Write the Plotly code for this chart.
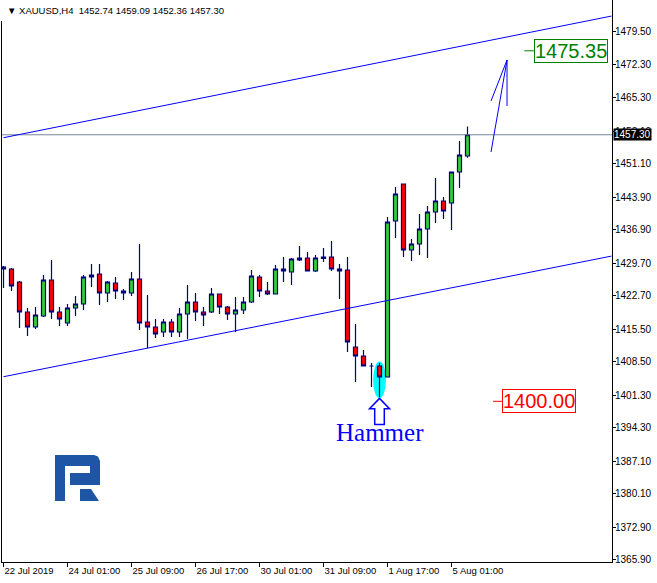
import plotly.graph_objects as go

# H4 bars, numbered from the first visible bar
tick_idx = [0, 8, 16, 24, 32, 40, 48, 56]
tick_text = ["22 Jul 2019", "24 Jul 01:00", "25 Jul 09:00", "26 Jul 17:00",
             "30 Jul 01:00", "31 Jul 09:00", "1 Aug 17:00", "5 Aug 01:00"]

opens = [1428.87, 1428.44, 1425.65, 1419.20, 1415.98, 1418.34, 1426.08, 1419.20,
         1416.84, 1420.06, 1420.92, 1426.72, 1427.37, 1423.29, 1425.43, 1423.72,
         1423.29, 1426.29, 1417.05, 1415.98, 1414.90, 1417.05, 1414.90, 1418.77,
         1421.35, 1419.20, 1419.20, 1423.07, 1420.28, 1418.77, 1419.63, 1421.35,
         1426.72, 1423.72, 1423.07, 1428.44, 1427.80, 1430.38, 1430.81, 1428.01,
         1431.02, 1431.02, 1428.44, 1428.23, 1411.68, 1409.74, 1407.59, 1407.59,
         1405.23, 1438.76, 1446.72, 1432.53, 1433.82, 1437.04, 1440.70, 1443.06,
         1442.63, 1449.30, 1452.74]
highs = [1429.09, 1428.66, 1425.87, 1420.06, 1420.28, 1427.15, 1430.38, 1420.28,
         1420.92, 1422.64, 1427.15, 1429.52, 1429.52, 1425.87, 1426.72, 1424.15,
         1427.80, 1433.82, 1422.86, 1417.70, 1417.70, 1417.70, 1420.06, 1425.00,
         1423.29, 1420.28, 1424.36, 1423.07, 1420.49, 1422.43, 1422.43, 1428.23,
         1427.15, 1425.65, 1429.31, 1431.02, 1430.81, 1433.39, 1432.10, 1431.45,
         1432.96, 1434.46, 1429.52, 1431.02, 1416.62, 1411.03, 1408.24, 1408.24,
         1439.62, 1446.07, 1446.72, 1434.89, 1440.27, 1441.99, 1448.01, 1443.92,
         1449.30, 1455.96, 1459.09]
lows = [1424.36, 1423.72, 1415.76, 1414.04, 1415.55, 1418.13, 1417.70, 1416.19,
        1416.19, 1418.34, 1419.63, 1424.58, 1420.71, 1421.35, 1422.00, 1421.78,
        1422.64, 1415.33, 1411.46, 1413.61, 1413.83, 1413.83, 1413.83, 1413.40,
        1417.27, 1416.19, 1418.99, 1418.77, 1417.48, 1414.90, 1418.77, 1421.14,
        1422.43, 1422.86, 1423.07, 1425.65, 1425.00, 1430.16, 1428.01, 1427.80,
        1429.95, 1428.01, 1422.00, 1410.60, 1404.15, 1407.59, 1403.08, 1400.93,
        1405.23, 1435.11, 1431.02, 1430.16, 1431.45, 1430.81, 1438.33, 1439.19,
        1436.83, 1445.86, 1452.36]
closes = [1428.44, 1424.79, 1419.20, 1415.98, 1418.56, 1426.08, 1419.20, 1417.70,
          1420.06, 1420.92, 1426.72, 1427.15, 1423.29, 1425.65, 1423.72, 1423.29,
          1426.29, 1416.84, 1415.98, 1414.47, 1417.05, 1414.90, 1418.77, 1421.35,
          1419.20, 1418.56, 1423.07, 1420.28, 1418.77, 1419.63, 1421.35, 1426.94,
          1423.72, 1423.07, 1428.44, 1428.01, 1430.59, 1430.81, 1428.01, 1430.81,
          1430.70, 1428.44, 1428.01, 1412.75, 1409.74, 1407.59, 1407.59, 1405.23,
          1438.55, 1444.57, 1432.53, 1433.82, 1437.04, 1440.70, 1443.06, 1440.91,
          1449.30, 1452.95, 1457.30]

y_ticks = [1365.90, 1372.90, 1380.10, 1387.10, 1394.30, 1401.30, 1408.50, 1415.50,
           1422.70, 1429.70, 1436.90, 1443.90, 1451.10, 1458.10, 1465.30, 1472.30,
           1479.50]

# channel lines (bar index, price)
channel_x = [0, 76]
upper_channel = [1456.67, 1482.82]
lower_channel = [1405.29, 1431.22]

# forecast arrow
arrow_x = [60.94, 62.94, None, 60.94, 62.94, 62.94]
arrow_y = [1453.60, 1473.37, None, 1464.56, 1473.37, 1463.48]

target_price = 1475.35
stop_price = 1400.00
hammer_idx = 47

last_close = closes[-1]
n = len(closes)
x = list(range(n))

FONT = "Liberation Sans, Arial, sans-serif"


def px_to_paper(px, py):
    return (px - 2) / 610, 1 - py / 562


def path_from_px(points):
    parts = []
    for i, (px, py) in enumerate(points):
        ax, ay = px_to_paper(px, py)
        parts.append(("M" if i == 0 else "L") + " %.5f,%.5f" % (ax, ay))
    return " ".join(parts) + " Z"


fig = go.Figure()

fig.add_trace(go.Scatter(
    x=[-1, 80], y=[last_close, last_close], mode="lines",
    line=dict(color="#778899", width=1), hoverinfo="skip"
))
fig.add_trace(go.Scatter(
    x=channel_x, y=upper_channel, mode="lines",
    line=dict(color="#0000ff", width=1), hoverinfo="skip"
))
fig.add_trace(go.Scatter(
    x=channel_x, y=lower_channel, mode="lines",
    line=dict(color="#0000ff", width=1), hoverinfo="skip"
))
fig.add_trace(go.Scatter(
    x=arrow_x, y=arrow_y, mode="lines",
    line=dict(color="#0000ff", width=1), hoverinfo="skip"
))

fig.add_trace(go.Candlestick(
    x=x, open=opens, high=highs, low=lows, close=closes,
    increasing=dict(fillcolor="#32cd32", line=dict(color="#000080", width=1.2)),
    decreasing=dict(fillcolor="#ff0000", line=dict(color="#000080", width=1.2)),
    whiskerwidth=0
))

shapes = []
# cyan highlight around the hammer's lower shadow
h_low = lows[hammer_idx]
shapes.append(dict(
    type="circle", xref="x", yref="y", layer="below",
    x0=hammer_idx - 0.8, x1=hammer_idx + 0.8,
    y0=h_low - 0.3, y1=highs[hammer_idx] + 0.3,
    fillcolor="#00ffff", line=dict(width=0)
))
# hollow up arrow under the hammer
tip = h_low - 0.3
base = tip - 2.2
bot = tip - 5.6
shapes.append(dict(
    type="path", xref="x", yref="y", layer="above",
    path=("M %f,%f L %f,%f L %f,%f L %f,%f L %f,%f L %f,%f L %f,%f Z" % (
        hammer_idx, tip, hammer_idx + 1.25, base, hammer_idx + 0.6, base,
        hammer_idx + 0.6, bot, hammer_idx - 0.6, bot, hammer_idx - 0.6, base,
        hammer_idx - 1.25, base)),
    fillcolor="white", line=dict(color="#0000ff", width=1.5)
))
# dashes next to the level labels
shapes.append(dict(type="line", xref="x", yref="y", x0=65.1, x1=66.3,
                   y0=target_price, y1=target_price,
                   line=dict(color="#008000", width=1)))
shapes.append(dict(type="line", xref="x", yref="y", x0=61.2, x1=62.3,
                   y0=stop_price, y1=stop_price,
                   line=dict(color="#ff0000", width=1)))
# white strip behind the title
shapes.append(dict(type="rect", xref="paper", yref="paper", layer="above",
                   x0=-0.01, x1=0.36, y0=1 - 21 / 562, y1=1.0,
                   fillcolor="white", line=dict(width=0)))
# logo
logo_color = "#1f55a5"
shapes.append(dict(
    type="path", xref="paper", yref="paper", layer="above",
    path=path_from_px([(55, 501), (55, 455), (94, 455), (98, 456.5), (100, 461),
                       (100, 485), (70, 485), (70, 473), (90, 473), (90, 466),
                       (65, 466), (65, 501)]),
    fillcolor=logo_color, line=dict(width=0)
))
shapes.append(dict(
    type="path", xref="paper", yref="paper", layer="above",
    path=path_from_px([(80, 489), (91, 489), (99, 501), (80, 501)]),
    fillcolor=logo_color, line=dict(width=0)
))

annotations = [
    dict(xref="paper", yref="paper", x=3 / 610, y=1 - 10 / 562,
         xanchor="left", yanchor="middle", showarrow=False,
         text="\u25bc XAUUSD,H4  %.2f %.2f %.2f %.2f" % (
             opens[-1], highs[-1], lows[-1], closes[-1]),
         font=dict(family=FONT, size=9.5, color="black")),
    dict(xref="paper", yref="y", x=1, y=last_close, xanchor="left",
         yanchor="middle", showarrow=False, xshift=1,
         text="%.2f" % last_close, bgcolor="black", borderpad=0,
         font=dict(family=FONT, size=10, color="white")),
    dict(xref="x", yref="y", x=66.3, y=target_price, xanchor="left",
         yanchor="middle", showarrow=False, text="%.2f" % target_price,
         bgcolor="white", bordercolor="#008000", borderwidth=1, borderpad=0,
         font=dict(family=FONT, size=20, color="#008000")),
    dict(xref="x", yref="y", x=62.3, y=stop_price, xanchor="left",
         yanchor="middle", showarrow=False, text="%.2f" % stop_price,
         bgcolor="white", bordercolor="#ff0000", borderwidth=1, borderpad=0,
         font=dict(family=FONT, size=20, color="#ff0000")),
    dict(xref="x", yref="y", x=hammer_idx, y=tip - 7.4, xanchor="center",
         yanchor="middle", showarrow=False, text="Hammer",
         font=dict(family="Liberation Serif, Times New Roman, serif",
                   size=25, color="#0000ff")),
]

fig.update_layout(
    width=657, height=583,
    margin=dict(l=2, r=45, t=0, b=21, autoexpand=False),
    paper_bgcolor="white", plot_bgcolor="white",
    showlegend=False,
    boxgap=0.28,
    shapes=shapes,
    annotations=annotations,
    xaxis=dict(
        range=[-0.1875, 76.0625], rangeslider=dict(visible=False),
        showgrid=False, zeroline=False, showline=True, linecolor="black",
        linewidth=1, ticks="outside", ticklen=4, tickcolor="black",
        tickvals=tick_idx, ticktext=tick_text,
        ticklabelposition="outside right", automargin=False,
        tickfont=dict(family=FONT, size=9.5, color="black"),
    ),
    yaxis=dict(
        range=[1365.46, 1486.27], side="right",
        showgrid=False, zeroline=False, showline=True, mirror=True,
        linecolor="black", linewidth=1, ticks="outside", ticklen=3,
        tickcolor="black", tickvals=y_ticks, automargin=False,
        ticklabelstandoff=-3,
        ticktext=["%.2f" % v for v in y_ticks],
        tickfont=dict(family=FONT, size=10, color="black"),
    ),
)

# the page body has a default 8px margin; drop it so the figure sits at 0,0
fig.write_html("out.html", config={"displayModeBar": False},
               post_script="document.body.style.margin='0px';")
